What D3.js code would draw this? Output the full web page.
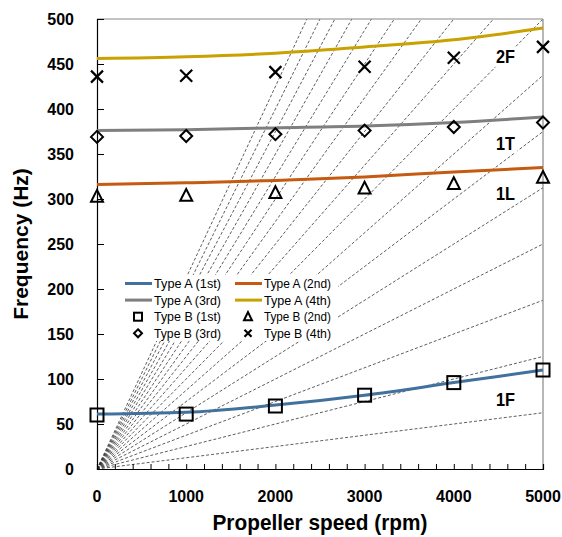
<!DOCTYPE html>
<html><head><meta charset="utf-8">
<script src="https://cdn.jsdelivr.net/npm/d3@7"></script>
<style>body{margin:0;background:#fff}svg{display:block}text{font-family:"Liberation Sans",Arial,sans-serif}</style>
</head><body>
<script>
const speeds = [0, 1000, 2000, 3000, 4000, 5000];
const typeA1 = [61, 63, 71, 82, 96, 110];
const typeA2 = [316, 318, 320.5, 324.5, 330, 335];
const typeA3 = [376, 377, 379, 381, 385, 391];
const typeA4 = [456, 458, 462, 469, 477, 490];
const typeB1 = [60, 61, 70, 82, 96, 110];
const typeB2 = [303, 304, 307, 312, 317, 324];
const typeB3 = [369, 370, 372, 376, 380, 385];
const typeB4 = [436, 437, 441, 447, 457, 469];
const orders = d3.range(1, 18);          // excitation orders
const orderFactor = 0.0125;              // Hz per rpm per order
const xTicks = [0, 1000, 2000, 3000, 4000, 5000];
const yTicks = [0, 50, 100, 150, 200, 250, 300, 350, 400, 450, 500];
const modeLabels = [
  {text: "2F", rpm: 4580, f: 458},
  {text: "1T", rpm: 4580, f: 362},
  {text: "1L", rpm: 4580, f: 306},
  {text: "1F", rpm: 4580, f: 77}
];

const W = 562, H = 537;
const svg = d3.select("body").append("svg").attr("width", W).attr("height", H);
const x = d3.scaleLinear().domain([0, 5000]).range([97, 543]);
const y = d3.scaleLinear().domain([0, 500]).range([469, 19]);

svg.append("defs").append("clipPath").attr("id", "plot")
  .append("rect").attr("x", 97).attr("y", 19).attr("width", 446).attr("height", 450);

// fan (order) lines
const fan = svg.append("g").attr("clip-path", "url(#plot)");
orders.forEach(k => {
  fan.append("line")
    .attr("x1", x(0)).attr("y1", y(0))
    .attr("x2", x(5000)).attr("y2", y(k * orderFactor * 5000))
    .attr("stroke", "#333").attr("stroke-width", 0.8)
    .attr("stroke-dasharray", "3,2");
});

// frame
svg.append("line").attr("x1", x(0)).attr("x2", x(5000)).attr("y1", y(500)).attr("y2", y(500)).attr("stroke", "#888").attr("stroke-width", 1.2);
svg.append("line").attr("x1", x(5000)).attr("x2", x(5000)).attr("y1", y(0)).attr("y2", y(500)).attr("stroke", "#888").attr("stroke-width", 1.2);

// axes
const xAxis = d3.axisBottom(x).tickValues(d3.range(0, 5001, 200)).tickSize(-5).tickFormat("");
const gx = svg.append("g").attr("transform", `translate(0,${y(0)})`).call(xAxis);
gx.select(".domain").attr("stroke", "#000").attr("stroke-width", 1.2);
gx.selectAll(".tick line").attr("stroke", "#000");
const yAxis = d3.axisLeft(y).tickValues(yTicks).tickSize(-7).tickFormat("");
const gy = svg.append("g").attr("transform", `translate(${x(0)},0)`).call(yAxis);
gy.select(".domain").attr("stroke", "#000").attr("stroke-width", 1.2);
gy.selectAll(".tick line").attr("stroke", "#000");

// tick labels
svg.append("g").selectAll("text").data(xTicks).join("text")
  .attr("x", d => x(d)).attr("y", 502).attr("text-anchor", "middle")
  .attr("font-size", 16).attr("font-weight", "bold").text(d => d);
svg.append("g").selectAll("text").data(yTicks).join("text")
  .attr("x", 74).attr("y", d => y(d) + 6).attr("text-anchor", "end")
  .attr("font-size", 16).attr("font-weight", "bold").text(d => d);

// titles
svg.append("text").attr("x", 320).attr("y", 530).attr("text-anchor", "middle")
  .attr("font-size", 22).attr("font-weight", "bold")
  .attr("textLength", 215).attr("lengthAdjust", "spacingAndGlyphs")
  .text("Propeller speed (rpm)");
svg.append("text").attr("transform", "translate(28,244) rotate(-90)").attr("text-anchor", "middle")
  .attr("font-size", 21).attr("font-weight", "bold")
  .text("Frequency (Hz)");

// mode labels with white background
modeLabels.forEach(m => {
  svg.append("rect").attr("x", x(m.rpm) - 12).attr("y", y(m.f) - 10).attr("width", 24).attr("height", 20).attr("fill", "#fff");
  svg.append("text").attr("x", x(m.rpm)).attr("y", y(m.f) + 6.5).attr("text-anchor", "middle")
    .attr("font-size", 18).attr("font-weight", "bold")
    .attr("textLength", 19).attr("lengthAdjust", "spacingAndGlyphs").text(m.text);
});

// Type A curves
const line = d3.line().x((d, i) => x(speeds[i])).y(d => y(d)).curve(d3.curveMonotoneX);
const seriesA = [
  {v: typeA1, c: "#41719C"},
  {v: typeA2, c: "#C55A11"},
  {v: typeA3, c: "#7F7F7F"},
  {v: typeA4, c: "#C9A100"}
];
seriesA.forEach(s => {
  svg.append("path").attr("d", line(s.v)).attr("fill", "none")
    .attr("stroke", s.c).attr("stroke-width", 3);
});

// markers
function marker(g, type, cx, cy, s) {
  if (type === "square") {
    g.append("rect").attr("x", cx - s / 2).attr("y", cy - s / 2).attr("width", s).attr("height", s)
      .attr("fill", "none").attr("stroke", "#000").attr("stroke-width", 2);
  } else if (type === "triangle") {
    const h = s * 0.9;
    g.append("path").attr("d", `M${cx},${cy - h / 2 - 1}L${cx + s / 2},${cy + h / 2}L${cx - s / 2},${cy + h / 2}Z`)
      .attr("fill", "none").attr("stroke", "#000").attr("stroke-width", 2);
  } else if (type === "diamond") {
    const r = s / 2;
    g.append("path").attr("d", `M${cx},${cy - r}L${cx + r},${cy}L${cx},${cy + r}L${cx - r},${cy}Z`)
      .attr("fill", "none").attr("stroke", "#000").attr("stroke-width", 2);
  } else {
    const r = s / 2;
    g.append("path").attr("d", `M${cx - r},${cy - r}L${cx + r},${cy + r}M${cx + r},${cy - r}L${cx - r},${cy + r}`)
      .attr("stroke", "#000").attr("stroke-width", 2.2);
  }
}
const seriesB = [
  {v: typeB1, t: "square", s: 13},
  {v: typeB2, t: "triangle", s: 12},
  {v: typeB3, t: "diamond", s: 12},
  {v: typeB4, t: "x", s: 12}
];
const gm = svg.append("g");
seriesB.forEach(s => s.v.forEach((d, i) => marker(gm, s.t, x(speeds[i]), y(d), s.s)));

// legend
const lg = svg.append("g");
lg.append("rect").attr("x", 120).attr("y", 275).attr("width", 218).attr("height", 66).attr("fill", "#fff");
const legendItems = [
  {label: "Type A (1st)", kind: "line", c: "#41719C", col: 0, row: 0},
  {label: "Type A (2nd)", kind: "line", c: "#C55A11", col: 1, row: 0},
  {label: "Type A (3rd)", kind: "line", c: "#7F7F7F", col: 0, row: 1},
  {label: "Type A (4th)", kind: "line", c: "#C9A100", col: 1, row: 1},
  {label: "Type B (1st)", kind: "square", col: 0, row: 2},
  {label: "Type B (2nd)", kind: "triangle", col: 1, row: 2},
  {label: "Type B (3rd)", kind: "diamond", col: 0, row: 3},
  {label: "Type B (4th)", kind: "x", col: 1, row: 3}
];
legendItems.forEach(it => {
  const lx = it.col === 0 ? 125 : 235;
  const ly = 283.5 + it.row * 16.6;
  if (it.kind === "line") {
    lg.append("line").attr("x1", lx).attr("x2", lx + 27).attr("y1", ly).attr("y2", ly)
      .attr("stroke", it.c).attr("stroke-width", 3);
  } else {
    const s = it.kind === "square" ? 8 : it.kind === "x" ? 7 : 8;
    marker(lg, it.kind, lx + 13, ly, s);
  }
  lg.append("text").attr("x", lx + 29).attr("y", ly + 4.5).attr("font-size", 13)
    .attr("textLength", it.label.length > 12 ? 71 : 67).attr("lengthAdjust", "spacingAndGlyphs")
    .text(it.label);
});
</script>
</body></html>
